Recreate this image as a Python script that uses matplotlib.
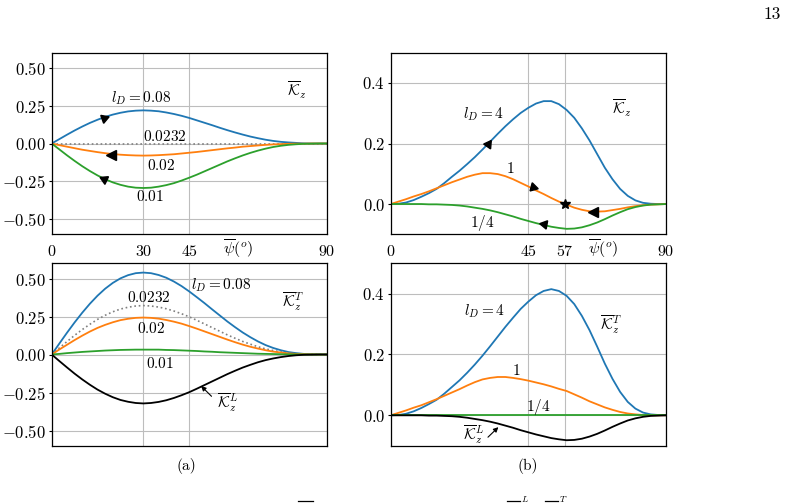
import matplotlib
matplotlib.use('Agg')
import matplotlib.pyplot as plt
from matplotlib.lines import Line2D

plt.rcParams['mathtext.fontset'] = 'cm'
plt.rcParams['font.family'] = 'serif'
plt.rcParams['font.serif'] = ['cmr10', 'DejaVu Serif']

# angle psi (deg), read every 2.5 deg
psi = [0, 2.5, 5, 7.5, 10, 12.5, 15, 17.5, 20, 22.5, 25, 27.5, 30, 32.5, 35, 37.5, 40, 42.5, 45,
       47.5, 50, 52.5, 55, 57.5, 60, 62.5, 65, 67.5, 70, 72.5, 75, 77.5, 80, 82.5, 85, 87.5, 90]

# (a) top: K_z for l_D = 0.08, 0.0232, 0.02, 0.01
kz_a_008 = [0, .029, .058, .086, .112, .136, .157, .176, .191, .203, .212, .217, .219, .217, .213, .205, .195, .183, .169,
            .153, .137, .121, .104, .088, .073, .059, .046, .035, .025, .017, .011, .007, .004, .001, 0, 0, 0]
kz_a_0232 = [0] * 37
kz_a_002 = [0, -.011, -.021, -.031, -.041, -.049, -.057, -.064, -.070, -.074, -.077, -.079, -.080, -.079, -.077, -.074, -.071, -.066, -.061,
            -.056, -.050, -.044, -.038, -.032, -.027, -.021, -.017, -.013, -.009, -.006, -.004, -.002, -.001, -.001, 0, 0, 0]
kz_a_001 = [0, -.039, -.078, -.115, -.150, -.182, -.211, -.236, -.257, -.273, -.285, -.292, -.294, -.292, -.285, -.275, -.262, -.245, -.226,
            -.206, -.184, -.162, -.140, -.118, -.098, -.079, -.062, -.047, -.034, -.023, -.015, -.009, -.005, -.002, -.001, 0, 0]

# (a) bottom: K_z^T for the same l_D, and K_z^L
kt_a_008 = [0, .072, .143, .211, .275, .334, .387, .433, .471, .501, .522, .535, .539, .535, .523, .505, .480, .450, .415,
            .377, .338, .297, .257, .217, .180, .145, .114, .086, .062, .043, .028, .016, .009, .004, .001, 0, 0]
kt_a_0232 = [0, .043, .085, .126, .164, .199, .231, .258, .281, .299, .311, .319, .322, .319, .312, .301, .286, .268, .248,
             .225, .201, .177, .153, .129, .107, .086, .068, .051, .037, .026, .017, .010, .005, .002, .001, 0, 0]
kt_a_002 = [0, .033, .064, .095, .124, .151, .175, .195, .212, .226, .235, .241, .243, .241, .236, .227, .216, .203, .187,
            .170, .152, .134, .116, .098, .081, .065, .051, .039, .028, .019, .013, .007, .004, .002, .001, 0, 0]
kt_a_001 = [0, .004, .009, .013, .017, .020, .023, .026, .028, .030, .031, .032, .032, .032, .032, .030, .029, .027, .025,
            .023, .020, .018, .015, .013, .011, .009, .007, .005, .004, .003, .002, .001, .001, 0, 0, 0, 0]
kl_a = [0, -.043, -.085, -.126, -.164, -.199, -.231, -.258, -.281, -.299, -.311, -.319, -.322, -.319, -.312, -.301, -.286, -.268, -.248,
        -.225, -.201, -.177, -.153, -.129, -.107, -.086, -.068, -.051, -.037, -.026, -.017, -.010, -.005, -.002, -.001, 0, 0]

# (b) top: K_z for l_D = 4, 1, 1/4
kz_b_4 = [0, .001, .005, .013, .024, .036, .050, .069, .090, .110, .132, .155, .180, .206, .232, .257, .280, .301, .318,
          .332, .340, .340, .330, .311, .285, .250, .210, .165, .120, .082, .050, .027, .012, .004, .001, 0, 0]
kz_b_1 = [0, .008, .016, .025, .033, .042, .052, .062, .072, .081, .090, .097, .102, .102, .099, .092, .082, .070, .058,
          .045, .033, .020, .008, -.002, -.012, -.019, -.024, -.025, -.024, -.020, -.016, -.011, -.007, -.004, -.002, -.001, 0]
kz_b_14 = [0, 0, 0, 0, 0, -.001, -.001, -.002, -.003, -.005, -.008, -.012, -.016, -.021, -.027, -.034, -.041, -.049, -.056,
           -.063, -.069, -.075, -.079, -.082, -.081, -.077, -.070, -.061, -.050, -.038, -.027, -.017, -.010, -.005, -.002, -.001, 0]

# (b) bottom: K_z^T for l_D = 4, 1, 1/4, and K_z^L
kt_b_4 = [0, .001, .005, .013, .024, .037, .051, .071, .093, .115, .140, .167, .196, .227, .259, .291, .321, .350, .374,
          .395, .409, .415, .409, .393, .366, .327, .280, .226, .170, .120, .077, .044, .022, .009, .003, .001, 0]
kt_b_1 = [0, .008, .016, .025, .033, .043, .053, .064, .075, .086, .098, .109, .118, .123, .126, .126, .123, .119, .114,
          .108, .102, .095, .087, .080, .069, .058, .046, .036, .026, .018, .011, .006, .003, .001, 0, 0, 0]
kt_b_14 = [0] * 37
kl_b = [0, 0, 0, 0, 0, -.001, -.001, -.002, -.003, -.005, -.008, -.012, -.016, -.021, -.027, -.034, -.041, -.049, -.056,
        -.063, -.069, -.075, -.079, -.082, -.081, -.077, -.070, -.061, -.050, -.038, -.027, -.017, -.010, -.005, -.002, -.001, 0]

blue, orange, green = '#1f77b4', '#ff7f0e', '#2ca02c'
W, H = 788, 504

fig = plt.figure(figsize=(W / 100, H / 100), dpi=100)
ax1 = fig.add_axes([51.7 / W, 1 - 234.3 / H, 275 / W, 181.6 / H])
ax2 = fig.add_axes([390.7 / W, 1 - 234.3 / H, 275.3 / W, 181.6 / H])
ax3 = fig.add_axes([51.7 / W, 1 - 445.7 / H, 275 / W, 182.4 / H])
ax4 = fig.add_axes([390.7 / W, 1 - 445.7 / H, 275.3 / W, 182.4 / H])


def setup(ax, xt, yt, ylabels, ylim, show_x, psi_x):
    ax.set_xlim(0, 90)
    ax.set_ylim(*ylim)
    ax.set_xticks(xt)
    ax.set_xticklabels(['$%d$' % v for v in xt])
    ax.set_yticks(yt)
    ax.set_yticklabels(ylabels)
    ax.grid(True, color='#bdbdbd', lw=0.8)
    ax.tick_params(axis='y', length=2.5, pad=1.5, labelsize=12)
    ax.tick_params(axis='x', length=0, pad=7, labelsize=11.5, labelbottom=show_x)
    for s in ax.spines.values():
        s.set_linewidth(0.9)
    if show_x:
        ax.text(psi_x, -0.078, r'$\overline{\psi}(^o)$', transform=ax.get_xaxis_transform(),
                ha='center', va='center', fontsize=11.5)


yl_a = [r'$-0.50$', r'$-0.25$', r'$0.00$', r'$0.25$', r'$0.50$']
yl_b = [r'$0.0$', r'$0.2$', r'$0.4$']
setup(ax1, [0, 30, 45, 90], [-0.5, -0.25, 0, 0.25, 0.5], yl_a, (-0.6, 0.6), True, 61)
setup(ax3, [0, 30, 45, 90], [-0.5, -0.25, 0, 0.25, 0.5], yl_a, (-0.6, 0.6), False, 61)
setup(ax2, [0, 45, 57, 90], [0, 0.2, 0.4], yl_b, (-0.1, 0.5), True, 69.5)
setup(ax4, [0, 45, 57, 90], [0, 0.2, 0.4], yl_b, (-0.1, 0.5), False, 69.5)

lw = 1.3
fs = 11
ms = 7
arrow = dict(arrowstyle='-|>', color='k', lw=0.8, mutation_scale=7, shrinkA=0, shrinkB=0)

# (a) top
ax1.plot(psi, kz_a_0232, color='gray', ls=':', lw=1.2)
ax1.plot(psi, kz_a_008, color=blue, lw=lw)
ax1.plot(psi, kz_a_002, color=orange, lw=lw)
ax1.plot(psi, kz_a_001, color=green, lw=lw)
ax1.plot([17], [0.171], marker=(3, 0, 170), color='k', ms=ms)
ax1.plot([19.4], [-0.073], marker='<', color='k', ms=ms)
ax1.plot([17], [-0.234], marker=(3, 0, 185), color='k', ms=ms)
ax1.text(29.4, 0.30, r'$l_D = 0.08$', ha='center', va='center', fontsize=fs)
ax1.text(37, 0.045, r'$0.0232$', ha='center', va='center', fontsize=fs)
ax1.text(35.8, -0.143, r'$0.02$', ha='center', va='center', fontsize=fs)
ax1.text(32.2, -0.351, r'$0.01$', ha='center', va='center', fontsize=fs)
ax1.text(80.2, 0.35, r'$\overline{\mathcal{K}}_z$', ha='center', va='center', fontsize=fs)

# (a) bottom
ax3.plot(psi, kt_a_0232, color='gray', ls=':', lw=1.2)
ax3.plot(psi, kt_a_008, color=blue, lw=lw)
ax3.plot(psi, kt_a_002, color=orange, lw=lw)
ax3.plot(psi, kt_a_001, color=green, lw=lw)
ax3.plot(psi, kl_a, color='k', lw=lw)
ax3.text(55.4, 0.457, r'$l_D = 0.08$', ha='center', va='center', fontsize=fs)
ax3.text(31.9, 0.376, r'$0.0232$', ha='center', va='center', fontsize=fs)
ax3.text(32.5, 0.174, r'$0.02$', ha='center', va='center', fontsize=fs)
ax3.text(35.3, -0.059, r'$0.01$', ha='center', va='center', fontsize=fs)
ax3.text(79, 0.348, r'$\overline{\mathcal{K}}_z^T$', ha='center', va='center', fontsize=fs)
ax3.text(57.5, -0.315, r'$\overline{\mathcal{K}}_z^L$', ha='center', va='center', fontsize=fs)
ax3.annotate('', xy=(48.9, -0.207), xytext=(52.3, -0.275), arrowprops=arrow)

# (b) top
ax2.plot(psi, kz_b_4, color=blue, lw=lw)
ax2.plot(psi, kz_b_1, color=orange, lw=lw)
ax2.plot(psi, kz_b_14, color=green, lw=lw)
ax2.plot([31.9], [0.2], marker=(3, 0, -35), color='k', ms=ms)
ax2.plot([46.6], [0.057], marker=(3, 0, -105), color='k', ms=ms)
ax2.plot([57], [0], marker='*', color='k', ms=7.5)
ax2.plot([66], [-0.025], marker='<', color='k', ms=ms)
ax2.plot([50], [-0.067], marker=(3, 0, 80), color='k', ms=ms)
ax2.text(30.2, 0.297, r'$l_D = 4$', ha='center', va='center', fontsize=fs)
ax2.text(39, 0.118, r'$1$', ha='center', va='center', fontsize=fs)
ax2.text(30, -0.062, r'$1/4$', ha='center', va='center', fontsize=fs)
ax2.text(75.5, 0.316, r'$\overline{\mathcal{K}}_z$', ha='center', va='center', fontsize=fs)

# (b) bottom
ax4.plot(psi, kt_b_4, color=blue, lw=lw)
ax4.plot(psi, kt_b_1, color=orange, lw=lw)
ax4.plot(psi, kt_b_14, color=green, lw=lw)
ax4.plot(psi, kl_b, color='k', lw=lw)
ax4.text(30.8, 0.342, r'$l_D = 4$', ha='center', va='center', fontsize=fs)
ax4.text(40.9, 0.146, r'$1$', ha='center', va='center', fontsize=fs)
ax4.text(48.3, 0.028, r'$1/4$', ha='center', va='center', fontsize=fs)
ax4.text(71.9, 0.298, r'$\overline{\mathcal{K}}_z^T$', ha='center', va='center', fontsize=fs)
ax4.text(27.2, -0.064, r'$\overline{\mathcal{K}}_z^L$', ha='center', va='center', fontsize=fs)
ax4.annotate('', xy=(35.2, -0.039), xytext=(31.8, -0.072), arrowprops=arrow)

# captions and page furniture
fig.text(186 / W, 1 - 466 / H, '(a)', ha='center', va='center', fontsize=fs)
fig.text(528 / W, 1 - 466 / H, '(b)', ha='center', va='center', fontsize=fs)
fig.text(772 / W, 1 - 14 / H, '13', ha='center', va='center', fontsize=12.5)

# top edge of the next caption line, cut by the page crop
for x0, x1 in [(298, 313), (507, 520), (545, 558)]:
    fig.add_artist(Line2D([x0 / W, x1 / W], [1 - 501 / H] * 2, color='k', lw=0.9))
fig.text(521 / W, 1 - 494 / H, '$L$', ha='left', va='top', fontsize=6.5)
fig.text(559 / W, 1 - 494 / H, '$T$', ha='left', va='top', fontsize=6.5)

fig.savefig('out.png', dpi=100)
